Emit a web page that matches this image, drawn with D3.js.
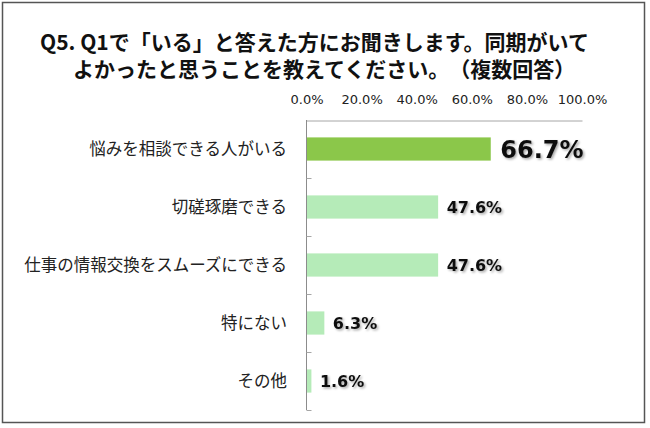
<!DOCTYPE html>
<html>
<head>
<meta charset="utf-8">
<script src="https://cdn.jsdelivr.net/npm/d3@7"></script>
<style>
  body { margin: 0; background: #fff; }
  svg { display: block; }
  text { text-spacing-trim: space-all; }
  .title { font-family: "Noto Sans CJK JP", sans-serif; font-weight: bold; font-size: 21px; fill: #111; }
  .cat { font-family: "Noto Sans CJK JP", sans-serif; font-size: 16.5px; fill: #222; }
  .tick text { font-family: "DejaVu Sans", Verdana, sans-serif; font-size: 13px; fill: #222; }
  .val { font-family: "DejaVu Sans", Verdana, sans-serif; font-weight: bold; fill: #111; }
</style>
</head>
<body>
<svg width="650" height="428"></svg>
<script>
// --------------- datos ---------------
const titleLines = ["Q5. Q1で「いる」と答えた方にお聞きします。同期がいて", "よかったと思うことを教えてください。（複数回答）"];
const categories = ["悩みを相談できる人がいる", "切磋琢磨できる", "仕事の情報交換をスムーズにできる", "特にない", "その他"];
const values = [0.667, 0.476, 0.476, 0.063, 0.016];
const tickValues = [0, 0.2, 0.4, 0.6, 0.8, 1.0];

const svg = d3.select("svg");

// sombra para los porcentajes
const filter = svg.append("defs").append("filter")
    .attr("id", "shadow")
    .attr("x", "-20%").attr("y", "-20%")
    .attr("width", "140%").attr("height", "160%");
filter.append("feDropShadow")
    .attr("dx", 1.5).attr("dy", 1.5)
    .attr("stdDeviation", 1)
    .attr("flood-color", "#000")
    .attr("flood-opacity", 0.35);

// marco
svg.append("rect")
    .attr("x", 2.5).attr("y", 2.5)
    .attr("width", 642).attr("height", 420)
    .attr("fill", "none")
    .attr("stroke", "#555")
    .attr("stroke-width", 1.5);

// titulo (dos lineas)
svg.selectAll(".title")
    .data(titleLines)
    .enter().append("text")
    .attr("class", "title")
    .attr("x", (d, i) => i === 0 ? 40 : 73)
    .attr("y", (d, i) => 50 + i * 27)
    .text(d => d);

const x = d3.scaleLinear().domain([0, 1]).range([306.5, 582]);
const y = d3.scaleBand().domain(categories).range([120, 410])
    .paddingInner(0.6).paddingOuter(0.3);

// eje superior
const xAxis = svg.append("g")
    .attr("transform", "translate(0,120.5)")
    .call(d3.axisTop(x).tickValues(tickValues).tickSize(0).tickPadding(17).tickFormat(d3.format(".1%")));
xAxis.select(".domain").attr("stroke", "#a6a6a6");

// eje izquierdo
svg.append("line")
    .attr("x1", x(0)).attr("x2", x(0))
    .attr("y1", 120).attr("y2", 410)
    .attr("stroke", "#8c8c8c");
const step = y.step();
svg.selectAll(".ytick")
    .data(categories)
    .enter().append("line")
    .attr("class", "ytick")
    .attr("x1", x(0)).attr("x2", x(0) + 5)
    .attr("y1", d => y(d) - step * 0.3 + step + 0.5)
    .attr("y2", d => y(d) - step * 0.3 + step + 0.5)
    .attr("stroke", "#a6a6a6");

// barras
svg.selectAll(".bar")
    .data(categories)
    .enter().append("rect")
    .attr("class", "bar")
    .attr("x", x(0) + 0.5)
    .attr("y", d => y(d))
    .attr("width", (d, i) => x(values[i]) - x(0))
    .attr("height", y.bandwidth())
    .attr("fill", (d, i) => i === 0 ? "#8bc74a" : "#b5ebb8");

// etiquetas categorias
svg.selectAll(".cat")
    .data(categories)
    .enter().append("text")
    .attr("class", "cat")
    .attr("x", 287)
    .attr("y", d => y(d) + y.bandwidth() / 2)
    .attr("dy", "0.35em")
    .attr("text-anchor", "end")
    .text(d => d);

// valores
svg.selectAll(".val")
    .data(categories)
    .enter().append("text")
    .attr("class", "val")
    .attr("x", (d, i) => x(values[i]) + (i === 0 ? 10 : 9))
    .attr("y", d => y(d) + y.bandwidth() / 2)
    .attr("dy", "0.36em")
    .attr("font-size", (d, i) => i === 0 ? 24 : 16)
    .attr("filter", "url(#shadow)")
    .text((d, i) => d3.format(".1%")(values[i]));
</script>
</body>
</html>
